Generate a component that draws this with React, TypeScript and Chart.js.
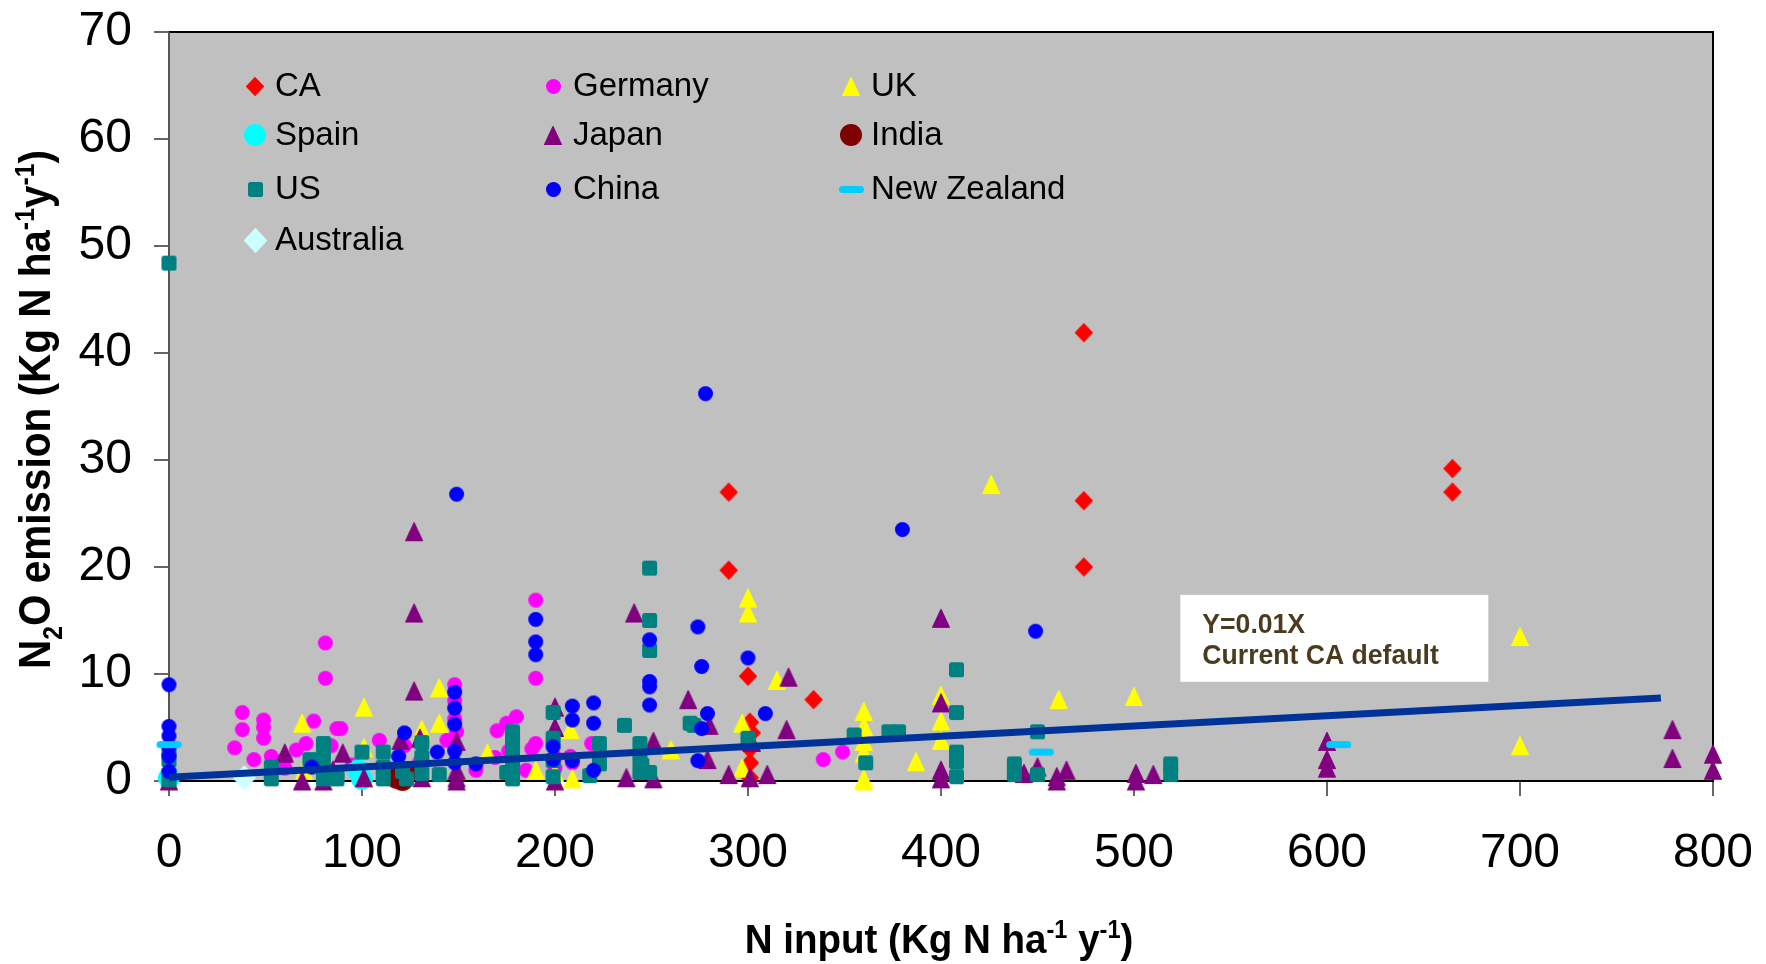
import React, { useEffect, useRef } from 'react';
import { Chart, registerables } from 'chart.js';

Chart.register(...registerables);

const FONT = '"Liberation Sans", Arial, "DejaVu Sans", sans-serif';

// axis ranges
const X_MIN = 0;
const X_MAX = 800;
const X_STEP = 100;
const Y_MIN = 0;
const Y_MAX = 70;
const Y_STEP = 10;

// data: [N input, N2O emission]
const CA_POINTS = [
  [474, 41.9], [665, 29.2], [665, 27.0], [474, 26.2], [474, 20.0], [290, 27.0], [290, 19.7],
  [300, 9.8], [334, 7.6], [301, 5.5], [302, 4.5], [301, 3.0], [301, 1.7], [301, 0.3],
];

const GERMANY_POINTS = [
  [81, 12.9], [81, 9.6], [190, 16.9], [190, 9.6], [148, 9.0], [38, 6.4], [38, 4.8], [34, 3.1],
  [49, 5.7], [49, 5.0], [49, 4.0], [44, 2.0], [53, 2.3], [75, 5.6], [87, 4.9], [89, 4.9],
  [71, 3.5], [66, 2.9], [60, 2.0], [84, 3.3], [109, 3.8], [144, 3.8], [180, 6.0], [175, 5.4],
  [170, 4.7], [169, 2.2], [190, 3.5], [208, 2.3], [209, 1.7], [159, 1.0], [185, 1.0], [149, 4.6],
  [122, 3.3], [339, 2.0], [349, 2.7], [219, 3.5], [200, 2.2], [200, 1.2], [148, 7.5], [148, 5.8],
  [95, 1.5], [130, 1.8], [176, 2.8], [60, 1.2], [188, 3.0],
];

const UK_POINTS = [
  [426, 27.7], [300, 17.1], [300, 15.7], [700, 13.5], [700, 3.3], [500, 7.9], [461, 7.6],
  [400, 8.0], [400, 5.6], [400, 3.8], [315, 9.4], [360, 6.5], [360, 5.1], [360, 3.7], [360, 2.6],
  [360, 0.2], [360, 0.0], [387, 1.8], [101, 6.9], [69, 5.4], [140, 8.7], [140, 5.4], [131, 4.8],
  [165, 2.6], [190, 1.0], [209, 0.2], [208, 4.8], [101, 3.1], [297, 5.4], [260, 2.9], [297, 1.2],
  [200, 0.8], [70, 1.0], [100, 0.5],
];

const SPAIN_POINTS = [[0, 0.3], [100, 0.2], [98, 1.0]];

const JAPAN_POINTS = [
  [127, 23.3], [127, 15.7], [127, 8.4], [241, 15.7], [400, 15.2], [400, 7.3], [400, 1.0], [400, 0.2],
  [321, 9.7], [269, 7.6], [320, 4.8], [302, 3.6], [251, 3.7], [280, 5.2], [279, 2.0], [290, 0.6],
  [310, 0.6], [301, 0.3], [237, 0.3], [251, 0.2], [60, 2.6], [69, 0.0], [90, 2.6], [80, 0.0],
  [101, 0.3], [120, 3.8], [131, 0.3], [149, 3.7], [149, 1.0], [149, 0.3], [149, 0.0], [200, 6.9],
  [200, 5.0], [200, 0.0], [443, 0.7], [450, 1.3], [460, 0.4], [465, 1.0], [460, 0.0], [501, 0.7],
  [501, 0.0], [510, 0.6], [600, 3.7], [600, 2.0], [600, 1.2], [779, 4.8], [779, 2.1], [800, 2.5],
  [800, 1.0], [0, 0.0], [85, 1.0], [130, 4.0],
];

const INDIA_POINTS = [[118, 0.3], [123, 0.8], [121, 0.1]];

const US_POINTS = [
  [0, 48.4], [249, 19.9], [249, 15.0], [249, 12.2], [408, 10.4], [408, 6.4], [408, 2.7], [408, 1.8],
  [408, 0.4], [236, 5.2], [272, 5.2], [223, 3.5], [223, 1.6], [244, 3.5], [244, 2.0], [244, 0.8],
  [249, 0.8], [218, 0.5], [300, 4.0], [355, 4.3], [373, 4.6], [378, 4.6], [361, 1.7], [450, 4.6],
  [450, 0.6], [438, 1.6], [438, 0.6], [519, 1.6], [519, 0.6], [0, 3.0], [0, 2.0], [0, 0.5], [0, 0.1],
  [53, 1.3], [53, 0.2], [73, 2.0], [80, 3.5], [80, 2.3], [80, 1.1], [80, 0.2], [87, 0.8], [87, 0.2],
  [100, 2.7], [111, 2.7], [111, 1.3], [111, 0.2], [121, 0.9], [131, 3.6], [131, 2.2], [131, 0.7],
  [140, 0.6], [178, 4.6], [178, 3.7], [178, 2.6], [178, 1.3], [178, 0.2], [175, 0.8], [199, 6.4],
  [199, 4.0], [199, 1.9], [199, 0.4], [270, 5.4], [245, 1.5], [123, 0.2],
];

const CHINA_POINTS = [
  [278, 36.2], [149, 26.8], [380, 23.5], [449, 14.0], [0, 9.0], [190, 15.1], [190, 13.0], [190, 11.8],
  [148, 8.3], [148, 6.8], [148, 5.3], [148, 2.8], [148, 1.7], [209, 7.0], [209, 5.7], [209, 1.9],
  [199, 3.2], [199, 2.0], [0, 5.1], [0, 4.2], [0, 3.2], [0, 2.3], [0, 0.9], [122, 4.5], [119, 2.3],
  [139, 2.7], [74, 1.3], [159, 1.6], [220, 7.3], [220, 5.4], [220, 1.0], [249, 13.2], [249, 9.3],
  [249, 8.8], [249, 7.1], [274, 14.4], [276, 10.7], [279, 6.3], [276, 4.9], [274, 1.9], [300, 11.5],
  [309, 6.3],
];

const NZ_POINTS = [[0, 3.4], [452, 2.7], [606, 3.4]];

const AUSTRALIA_POINTS = [[39, 0.3]];

const TREND_POINTS = [[0, 0.35], [773, 7.75]];

const NOTE_LINES = ['Y=0.01X', 'Current CA default'];
const NOTE_ANCHOR = [524, 17.4];

type Shape = 'circle' | 'triangle' | 'diamond' | 'square' | 'dash';
interface SeriesDef {
  label: string;
  points: number[][];
  color: string;
  shape: Shape;
  w: number;
  h: number;
}

const SERIES: SeriesDef[] = [
  { label: 'CA', points: CA_POINTS, color: '#ff0000', shape: 'diamond', w: 18, h: 19 },
  { label: 'Germany', points: GERMANY_POINTS, color: '#ff00ff', shape: 'circle', w: 15, h: 15 },
  { label: 'UK', points: UK_POINTS, color: '#ffff00', shape: 'triangle', w: 18, h: 19 },
  { label: 'Spain', points: SPAIN_POINTS, color: '#00ffff', shape: 'circle', w: 22, h: 22 },
  { label: 'Japan', points: JAPAN_POINTS, color: '#800080', shape: 'triangle', w: 18, h: 19 },
  { label: 'India', points: INDIA_POINTS, color: '#800000', shape: 'circle', w: 22, h: 22 },
  { label: 'US', points: US_POINTS, color: '#008080', shape: 'square', w: 15, h: 15 },
  { label: 'China', points: CHINA_POINTS, color: '#0000ff', shape: 'circle', w: 15, h: 15 },
  { label: 'New Zealand', points: NZ_POINTS, color: '#00ccff', shape: 'dash', w: 25, h: 7 },
  { label: 'Australia', points: AUSTRALIA_POINTS, color: '#ccffff', shape: 'diamond', w: 23, h: 25 },
];

const LEGEND_ROW_OFFSETS = [54, 103, 157, 208];
const LEGEND_COL_OFFSETS = [86, 384, 682];

function makeMarker(shape: Shape, w: number, h: number, color: string): HTMLCanvasElement {
  const c = document.createElement('canvas');
  const pad = 2;
  c.width = Math.ceil(w) + pad * 2;
  c.height = Math.ceil(h) + pad * 2;
  const g = c.getContext('2d')!;
  const cx = c.width / 2;
  const cy = c.height / 2;
  g.fillStyle = color;
  g.strokeStyle = color;
  g.lineJoin = 'round';
  g.lineWidth = 1.2;
  g.beginPath();
  if (shape === 'circle') {
    g.ellipse(cx, cy, w / 2, h / 2, 0, 0, Math.PI * 2);
    g.fill();
    return c;
  }
  if (shape === 'triangle') {
    g.moveTo(cx, cy - h / 2 + 0.6);
    g.lineTo(cx + w / 2 - 0.6, cy + h / 2 - 0.6);
    g.lineTo(cx - w / 2 + 0.6, cy + h / 2 - 0.6);
    g.closePath();
  } else if (shape === 'diamond') {
    g.moveTo(cx, cy - h / 2 + 0.6);
    g.lineTo(cx + w / 2 - 0.6, cy);
    g.lineTo(cx, cy + h / 2 - 0.6);
    g.lineTo(cx - w / 2 + 0.6, cy);
    g.closePath();
  } else if (shape === 'square') {
    (g as any).roundRect(cx - w / 2 + 0.6, cy - h / 2 + 0.6, w - 1.2, h - 1.2, 2);
  } else {
    (g as any).roundRect(cx - w / 2, cy - h / 2, w, h, h / 2);
    g.fill();
    return c;
  }
  g.fill();
  g.stroke();
  return c;
}

type Run = { t: string; k?: 'sup' | 'sub' };

const X_TITLE: Run[] = [
  { t: 'N input (Kg N ha' }, { t: '-1', k: 'sup' }, { t: ' y' }, { t: '-1', k: 'sup' }, { t: ')' },
];
const Y_TITLE: Run[] = [
  { t: 'N' }, { t: '2', k: 'sub' }, { t: 'O emission (Kg N ha' }, { t: '-1', k: 'sup' },
  { t: 'y' }, { t: '-1', k: 'sup' }, { t: ')' },
];

function drawRich(
  ctx: CanvasRenderingContext2D,
  runs: Run[],
  x: number,
  y: number,
  size: number,
  sx: number,
) {
  const big = `bold ${size}px ${FONT}`;
  const small = `bold ${Math.round(size * 0.62)}px ${FONT}`;
  let total = 0;
  const widths = runs.map((r) => {
    ctx.font = r.k ? small : big;
    const wd = ctx.measureText(r.t).width;
    total += wd;
    return wd;
  });
  ctx.save();
  ctx.translate(x, y);
  ctx.scale(sx, 1);
  let cx = -total / 2;
  ctx.textAlign = 'left';
  ctx.textBaseline = 'alphabetic';
  runs.forEach((r, i) => {
    ctx.font = r.k ? small : big;
    const dy = r.k === 'sup' ? -size * 0.36 : r.k === 'sub' ? size * 0.27 : 0;
    ctx.fillText(r.t, cx, dy);
    cx += widths[i];
  });
  ctx.restore();
}

export default function App() {
  const ref = useRef<HTMLCanvasElement>(null);

  useEffect(() => {
    document.body.style.margin = '0';
    const canvas = ref.current!;
    const markers = SERIES.map((s) => makeMarker(s.shape, s.w, s.h, s.color));

    const datasets: any[] = SERIES.map((s, i) => ({
      label: s.label,
      data: s.points.map(([x, y]) => ({ x, y })),
      pointStyle: markers[i],
      pointRadius: 8,
      pointHoverRadius: 8,
      backgroundColor: s.color,
      borderColor: s.color,
      showLine: false,
      order: SERIES.length - i,
      clip: false,
    }));
    datasets.push({
      label: 'Y=0.01X',
      data: TREND_POINTS.map(([x, y]) => ({ x, y })),
      showLine: true,
      pointRadius: 0,
      borderColor: '#003399',
      borderWidth: 7,
      borderCapStyle: 'butt',
      order: 0,
      clip: false,
    });

    const backgroundPlugin = {
      id: 'plotBackground',
      beforeDraw(chart: any) {
        const { ctx, chartArea: a } = chart;
        ctx.save();
        ctx.fillStyle = '#ffffff';
        ctx.fillRect(0, 0, chart.width, chart.height);
        ctx.fillStyle = '#c0c0c0';
        ctx.fillRect(a.left, a.top, a.right - a.left, a.bottom - a.top);
        ctx.restore();
      },
      beforeDatasetsDraw(chart: any) {
        const { ctx, chartArea: a } = chart;
        ctx.save();
        ctx.lineWidth = 2;
        ctx.strokeStyle = '#000000';
        ctx.beginPath();
        ctx.moveTo(a.left, a.top);
        ctx.lineTo(a.right, a.top);
        ctx.lineTo(a.right, a.bottom);
        ctx.lineTo(a.left, a.bottom);
        ctx.stroke();
        ctx.strokeStyle = '#555555';
        ctx.beginPath();
        ctx.moveTo(a.left, a.top);
        ctx.lineTo(a.left, a.bottom);
        ctx.stroke();
        ctx.restore();
      },
    };

    const legendPlugin = {
      id: 'gridLegend',
      afterDatasetsDraw(chart: any) {
        const { ctx, chartArea: a } = chart;
        ctx.save();
        ctx.font = `33px ${FONT}`;
        ctx.textAlign = 'left';
        ctx.textBaseline = 'alphabetic';
        SERIES.forEach((s, i) => {
          const col = i % 3;
          const row = Math.floor(i / 3);
          const mx = a.left + LEGEND_COL_OFFSETS[col];
          const my = a.top + LEGEND_ROW_OFFSETS[row];
          const m = markers[i];
          ctx.drawImage(m, Math.round(mx - m.width / 2), Math.round(my - m.height / 2));
          ctx.fillStyle = '#000000';
          ctx.fillText(s.label, mx + 20, my + 10);
        });
        ctx.restore();
      },
    };

    const notePlugin = {
      id: 'noteBox',
      afterDatasetsDraw(chart: any) {
        const { ctx } = chart;
        const x = chart.scales.x.getPixelForValue(NOTE_ANCHOR[0]);
        const y = chart.scales.y.getPixelForValue(NOTE_ANCHOR[1]);
        ctx.save();
        ctx.fillStyle = '#ffffff';
        ctx.fillRect(x, y, 308, 87);
        ctx.fillStyle = '#4a3b1e';
        ctx.font = `bold 28px ${FONT}`;
        ctx.textAlign = 'left';
        ctx.textBaseline = 'alphabetic';
        NOTE_LINES.forEach((line, i) => {
          ctx.save();
          ctx.translate(x + 22, y + 38 + i * 31);
          ctx.scale(0.95, 1);
          ctx.fillText(line, 0, 0);
          ctx.restore();
        });
        ctx.restore();
      },
    };

    const titlesPlugin = {
      id: 'axisTitles',
      afterDraw(chart: any) {
        const { ctx, chartArea: a } = chart;
        ctx.save();
        ctx.fillStyle = '#000000';
        drawRich(ctx, X_TITLE, (a.left + a.right) / 2 - 2, 953, 41, 0.94);
        ctx.translate(50, (a.top + a.bottom) / 2 + 3);
        ctx.rotate(-Math.PI / 2);
        drawRich(ctx, Y_TITLE, 0, 0, 44, 0.92);
        ctx.restore();
      },
    };

    const chart = new Chart(canvas, {
      type: 'scatter',
      data: { datasets },
      options: {
        animation: false,
        responsive: false,
        devicePixelRatio: 1,
        events: [],
        layout: { padding: { left: 0, right: 53, top: 32, bottom: 0 } },
        plugins: {
          legend: { display: false },
          tooltip: { enabled: false },
          title: { display: false },
        },
        scales: {
          x: {
            type: 'linear',
            min: X_MIN,
            max: X_MAX,
            afterFit: (s: any) => {
              s.height = 183;
              s.paddingLeft = 0;
              s.paddingRight = 0;
            },
            ticks: {
              stepSize: X_STEP,
              color: '#000000',
              padding: 29,
              maxRotation: 0,
              font: { family: FONT, size: 48 },
            },
            grid: {
              display: true,
              drawOnChartArea: false,
              drawTicks: true,
              tickLength: 15,
              color: '#666666',
              lineWidth: 2,
            },
            border: { display: false },
            title: { display: false },
          },
          y: {
            type: 'linear',
            min: Y_MIN,
            max: Y_MAX,
            afterFit: (s: any) => {
              s.width = 169;
              s.paddingTop = 0;
              s.paddingBottom = 0;
            },
            ticks: {
              stepSize: Y_STEP,
              color: '#000000',
              padding: 22,
              font: { family: FONT, size: 48 },
            },
            grid: {
              display: true,
              drawOnChartArea: false,
              drawTicks: true,
              tickLength: 15,
              color: '#666666',
              lineWidth: 2,
            },
            border: { display: false },
            title: { display: false },
          },
        },
      } as any,
      plugins: [backgroundPlugin, legendPlugin, notePlugin, titlesPlugin],
    });

    return () => chart.destroy();
  }, []);

  return (
    <div style={{ position: 'absolute', left: 0, top: 0, width: 1766, height: 964, background: '#ffffff' }}>
      <canvas ref={ref} width={1766} height={964} style={{ display: 'block', width: 1766, height: 964 }} />
    </div>
  );
}
